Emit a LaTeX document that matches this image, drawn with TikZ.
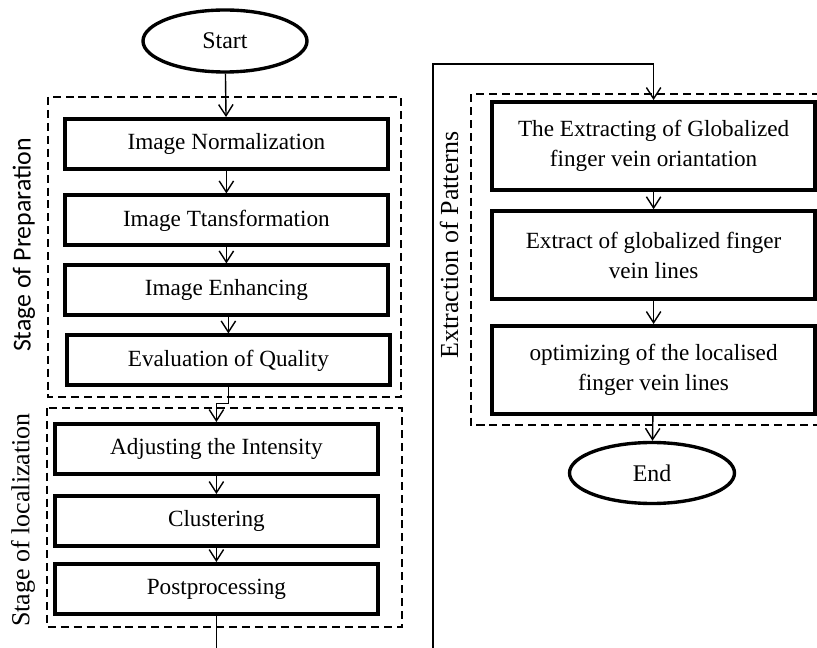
\documentclass[tikz,border=0pt]{standalone}
\usepackage{fontspec}
\setmainfont{Liberation Serif}
\newfontfamily\stagesans{Carlito}
\usepackage{tikz}
\usetikzlibrary{shapes.geometric, arrows.meta}
\tikzstyle{terminal} = [ellipse, minimum width=4.1cm, minimum height=1.55cm, text centered, draw=black, line width=2.4pt, font=\fontsize{17}{21}\selectfont]
\tikzstyle{process} = [rectangle, minimum width=8.075cm, minimum height=1.25cm, text centered, draw=black, line width=2.8pt, font=\fontsize{16.5}{21}\selectfont]
\tikzstyle{process2} = [process, minimum height=2.2cm]
\tikzstyle{stage} = [draw=black, line width=1.3pt, dash pattern=on 5.7pt off 3.5pt]
\tikzstyle{stagelabel} = [rotate=90, font=\fontsize{18.5}{22}\selectfont]
\tikzstyle{arrow} = [line width=1pt, ->, >={Straight Barb[length=0.28cm, width=0.36cm]}]

\begin{document}
\begin{tikzpicture}[node distance=1.75cm]
    \useasboundingbox (0,0) rectangle (20.425,-16.2);
    % Stage of preparation
    \node (start) [terminal] at (5.625,-1.025) {Start};
    \node (norm) [process] at (5.66,-3.6) {Image Normalization};
    \node (trans) [process, below of=norm, yshift=-0.16cm] {Image Ttansformation};
    \node (enh) [process, below of=trans] {Image Enhancing};
    \node (eval) [process, below of=enh, xshift=0.05cm] {Evaluation of Quality};
    \draw [stage] (1.2,-2.425) rectangle (10.025,-9.925);
    \node (preplabel) [stagelabel, font=\stagesans\fontsize{18.4}{22}\selectfont] at (0.6,-6.125) {Stage of Preparation};
    % Stage of localization
    \node (adj) [process] at (5.41,-11.225) {Adjusting the Intensity};
    \node (clus) [process, below of=adj, yshift=-0.05cm] {Clustering};
    \node (post) [process, below of=clus, yshift=0.05cm] {Postprocessing};
    \draw [stage] (1.175,-10.2) rectangle (10.05,-15.675);
    \node (loclabel) [stagelabel] at (0.575,-13.0) {Stage of localization};
    % Extraction of patterns
    \node (ext1) [process2] at (16.34,-3.65) {\parbox{7.5cm}{\centering The Extracting of Globalized \\ finger vein oriantation}};
    \node (ext2) [process2, below of=ext1, node distance=2.8cm, yshift=0.07cm] {\parbox{7.5cm}{\centering Extract of globalized finger \\ vein lines}};
    \node (ext3) [process2, below of=ext2, node distance=2.8cm, yshift=-0.07cm] {\parbox{7.5cm}{\centering optimizing of the localised \\ finger vein lines}};
    \draw [stage] (20.5,-2.35) -| (11.775,-10.625) -- (20.5,-10.625);
    \node (extlabel) [stagelabel] at (11.225,-6.125) {Extraction of Patterns};
    \node (end) [terminal, minimum width=4.125cm, minimum height=1.525cm] at (16.3,-11.825) {End};
    % Arrows
    \draw [arrow] (start) -- (norm);
    \draw [arrow] (norm) -- (trans);
    \draw [arrow] (trans) -- (enh);
    \draw [arrow] (enh.south -| eval) -- (eval);
    \draw [arrow] (eval.south) -- ++(0,-0.4) -| (adj.north);
    \draw [arrow] (adj) -- (clus);
    \draw [arrow] (clus) -- (post);
    \draw [arrow] (post.south) -- ++(0,-2) -| (10.825,-1.6) -| (ext1.north);
    \draw [arrow] (ext1) -- (ext2);
    \draw [arrow] (ext2) -- (ext3);
    \draw [arrow] (ext3) -- (end);
\end{tikzpicture}
\end{document}
